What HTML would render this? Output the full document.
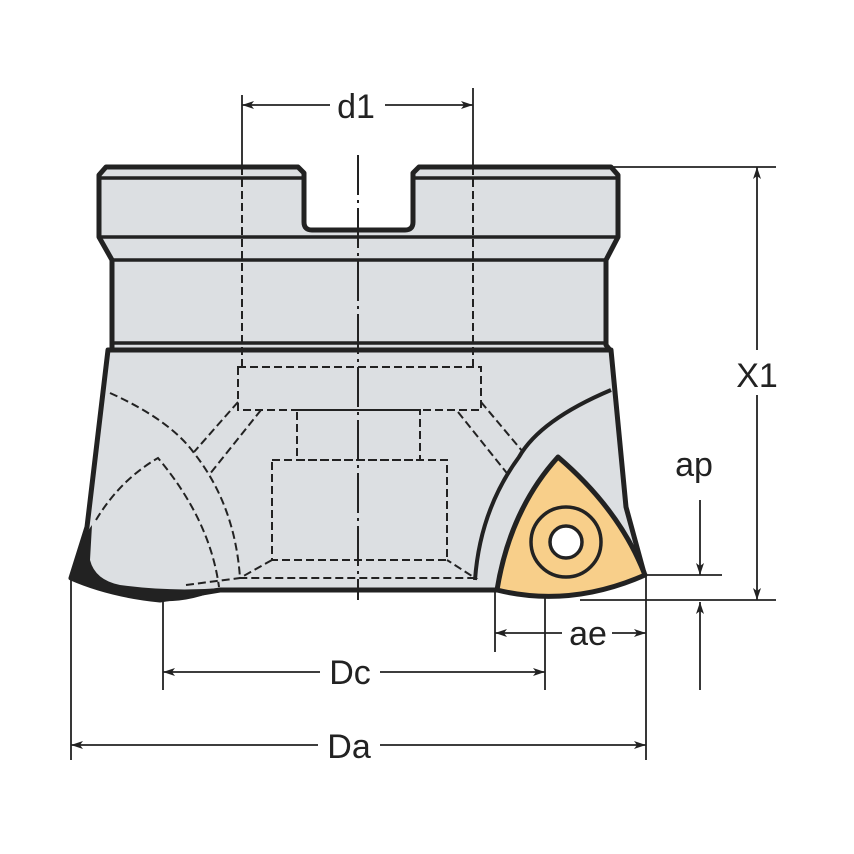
<!DOCTYPE html>
<html><head><meta charset="utf-8"><style>html,body{margin:0;padding:0;background:#fff}svg{display:block}</style></head>
<body>
<svg width="854" height="854" viewBox="0 0 854 854" xmlns="http://www.w3.org/2000/svg" font-family="Liberation Sans, sans-serif">
<defs>
<marker id="a" markerWidth="12" markerHeight="8" refX="12" refY="4" orient="auto" markerUnits="userSpaceOnUse"><path d="M0,0 L12,4 L0,8 L3,4 Z" fill="#222"/></marker>
</defs>
<!-- upper shank -->
<path d="M106,167 L298,167 L304,173 L304,222 Q304,230 312,230 L405,230 Q413,230 413,222 L413,173 L419,167 L611,167 L618,175 L618,237 L606,260 L606,345 L610,350 L112,350 L112,345 L112,260 L99,237 L99,175 Z" fill="#dcdfe2" stroke="#222" stroke-width="5" stroke-linejoin="round"/>
<line x1="101" y1="178" x2="302" y2="178" stroke="#222" stroke-width="3.5"/>
<line x1="415" y1="178" x2="616" y2="178" stroke="#222" stroke-width="3.5"/>
<line x1="100" y1="237" x2="617" y2="237" stroke="#222" stroke-width="3.5"/>
<line x1="112" y1="260" x2="606" y2="260" stroke="#222" stroke-width="3.5"/>
<line x1="110" y1="343" x2="608" y2="343" stroke="#222" stroke-width="3.5"/>
<!-- lower body -->
<path d="M108,350 L611,350 L626,507 L644,573 L600,580 L496,590 L220,590 L160,600 Q110,595 71,578 L87,527 Z" fill="#dcdfe2" stroke="#222" stroke-width="5" stroke-linejoin="round"/>
<path d="M71,578 Q80,540 92,525 L90,560 Q95,580 120,585 Q170,592 222,588 Q190,603 158,601 Q110,598 71,578 Z" fill="#222"/>
<!-- right arc -->
<path d="M611,390 Q540,420 519,457 Q480,510 475,580" fill="none" stroke="#222" stroke-width="4"/>
<!-- dashed hidden lines -->
<g fill="none" stroke="#222" stroke-width="2" stroke-dasharray="8,4">
<line x1="242" y1="167" x2="242" y2="367"/>
<line x1="473" y1="167" x2="473" y2="367"/>
<rect x="238" y="367" width="243" height="43"/>
<rect x="297" y="410" width="123" height="50"/>
<rect x="272" y="460" width="175" height="100"/>
<path d="M272,560 L240,578 L475,578 L447,560"/>
<line x1="186" y1="585" x2="240" y2="578"/>
<path d="M110,393 Q170,420 194,453 Q235,505 240,578"/>
<path d="M96,520 Q120,480 158,458 Q210,520 219,587"/>
<line x1="238" y1="402" x2="194" y2="452"/>
<line x1="261" y1="410" x2="209" y2="475"/>
<line x1="481" y1="402" x2="523" y2="452"/>
<line x1="458" y1="412" x2="510" y2="477"/>
</g>
<!-- centerline -->
<line x1="358" y1="155" x2="358" y2="600" stroke="#222" stroke-width="2" stroke-dasharray="40,5,3,5"/>
<!-- insert -->
<path d="M558,457 Q620,510 645,575 Q570,608 497,590 Q510,510 558,457 Z" fill="#f8cf8a" stroke="#222" stroke-width="5" stroke-linejoin="round"/>
<circle cx="566" cy="542" r="35" fill="none" stroke="#222" stroke-width="3.5"/>
<circle cx="566" cy="542" r="16" fill="#fff" stroke="#222" stroke-width="3.5"/>
<!-- dimension lines -->
<g stroke="#222" stroke-width="1.8" fill="none">
<line x1="242" y1="95" x2="242" y2="167"/>
<line x1="473" y1="88" x2="473" y2="167"/>
<line x1="330" y1="105" x2="242" y2="105" marker-end="url(#a)"/>
<line x1="385" y1="105" x2="473" y2="105" marker-end="url(#a)"/>
<line x1="611" y1="167" x2="776" y2="167"/>
<line x1="580" y1="600" x2="776" y2="600"/>
<line x1="757" y1="350" x2="757" y2="167" marker-end="url(#a)"/>
<line x1="757" y1="395" x2="757" y2="600" marker-end="url(#a)"/>
<line x1="645" y1="575" x2="722" y2="575"/>
<line x1="700" y1="500" x2="700" y2="575" marker-end="url(#a)"/>
<line x1="700" y1="690" x2="700" y2="602" marker-end="url(#a)"/>
<line x1="495" y1="590" x2="495" y2="652"/>
<line x1="545" y1="598" x2="545" y2="690"/>
<line x1="646" y1="575" x2="646" y2="760"/>
<line x1="163" y1="600" x2="163" y2="690"/>
<line x1="71" y1="578" x2="71" y2="760"/>
<line x1="562" y1="633" x2="495" y2="633" marker-end="url(#a)"/>
<line x1="612" y1="633" x2="646" y2="633" marker-end="url(#a)"/>
<line x1="320" y1="672" x2="163" y2="672" marker-end="url(#a)"/>
<line x1="380" y1="672" x2="545" y2="672" marker-end="url(#a)"/>
<line x1="318" y1="745" x2="71" y2="745" marker-end="url(#a)"/>
<line x1="380" y1="745" x2="646" y2="745" marker-end="url(#a)"/>
</g>
<g fill="#222" font-size="34" text-anchor="middle">
<text x="356" y="118">d1</text>
<text x="757" y="387">X1</text>
<text x="694" y="476">ap</text>
<text x="588" y="645">ae</text>
<text x="350" y="684">Dc</text>
<text x="349" y="758">Da</text>
</g>
</svg>
</body></html>
